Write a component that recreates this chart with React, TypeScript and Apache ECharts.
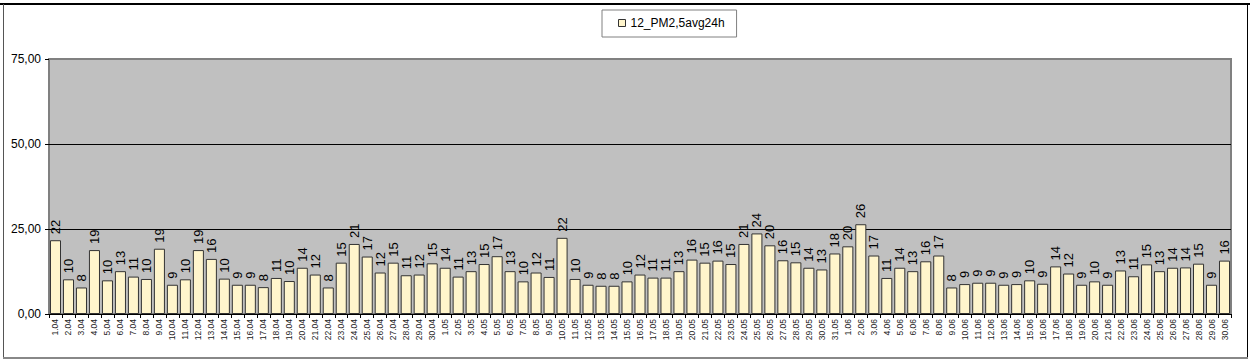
import React, { useEffect, useRef } from "react";
import * as echarts from "echarts";

const aprilDays = ["1.04","2.04","3.04","4.04","5.04","6.04","7.04","8.04","9.04","10.04","11.04","12.04","13.04","14.04","15.04","16.04","17.04","18.04","19.04","20.04","21.04","22.04","23.04","24.04","25.04","26.04","27.04","28.04","29.04","30.04"];
const mayDays = ["1.05","2.05","3.05","4.05","5.05","6.05","7.05","8.05","9.05","10.05","11.05","12.05","13.05","14.05","15.05","16.05","17.05","18.05","19.05","20.05","21.05","22.05","23.05","24.05","25.05","26.05","27.05","28.05","29.05","30.05","31.05"];
const juneDays = ["1.06","2.06","3.06","4.06","5.06","6.06","7.06","8.06","9.06","10.06","11.06","12.06","13.06","14.06","15.06","16.06","17.06","18.06","19.06","20.06","21.06","22.06","23.06","24.06","25.06","26.06","27.06","28.06","29.06","30.06"];

const aprilValues = [21.7,10.2,7.8,18.8,9.9,12.6,11.0,10.3,19.2,8.6,10.2,18.8,16.2,10.4,8.6,8.6,7.9,10.6,9.7,13.6,11.6,7.8,15.1,20.6,16.9,12.2,15.1,11.4,11.6,14.9];
const mayValues = [13.6,11.0,12.6,14.7,17.0,12.6,9.6,12.2,10.9,22.4,10.3,8.6,8.3,8.3,9.6,11.6,10.7,10.7,12.6,16.0,15.1,15.7,14.7,20.6,23.7,20.2,15.8,15.2,13.6,13.1,17.8];
const juneValues = [19.9,26.4,17.2,10.6,13.6,12.6,15.5,17.2,7.8,8.8,9.2,9.2,8.6,8.8,9.9,8.9,14.0,11.9,8.6,9.6,8.6,12.8,11.1,14.6,12.6,13.6,13.7,14.8,8.6,15.7];

const seriesName = "12_PM2,5avg24h";
const yMin = 0;
const yMax = 75;
const yInterval = 25;

const categories = [...aprilDays, ...mayDays, ...juneDays];
const values = [...aprilValues, ...mayValues, ...juneValues];

const FONT = "'Liberation Sans', Arial, sans-serif";

export default function App() {
  const ref = useRef<HTMLDivElement>(null);
  useEffect(() => {
    if (!ref.current) return;
    const chart = echarts.init(ref.current, null, { renderer: "svg" });
    chart.setOption({
      animation: false,
      backgroundColor: "#ffffff",
      textStyle: { fontFamily: FONT },
      legend: {
        left: 602,
        top: 10,
        padding: [6, 12, 7, 16],
        borderColor: "#808080",
        borderWidth: 1,
        backgroundColor: "#ffffff",
        itemWidth: 7,
        itemHeight: 7,
        itemGap: 4,
        icon: "rect",
        textStyle: { fontSize: 12, color: "#000", fontFamily: FONT, lineHeight: 14 },
        data: [{ name: seriesName, itemStyle: { color: "#FFF5CC", borderColor: "#333", borderWidth: 1 } }],
      },
      grid: {
        left: 49,
        top: 59,
        right: 19,
        bottom: 47,
        show: true,
        backgroundColor: "#C0C0C0",
        borderColor: "#808080",
        borderWidth: 2,
      },
      xAxis: {
        type: "category",
        data: categories,
        boundaryGap: true,
        axisLine: { show: true, lineStyle: { color: "#000", width: 1 } },
        axisTick: { show: true, length: 4, interval: 0, lineStyle: { color: "#000" } },
        axisLabel: { interval: 0, rotate: 90, fontSize: 8.5, color: "#222", margin: 5, fontFamily: FONT },
      },
      yAxis: {
        type: "value",
        min: yMin,
        max: yMax,
        interval: yInterval,
        axisLine: { show: false },
        axisTick: { show: true, length: 4, lineStyle: { color: "#000" } },
        axisLabel: {
          fontSize: 12,
          color: "#000",
          margin: 8,
          fontFamily: FONT,
          formatter: (v: number) => v.toFixed(2).replace(".", ","),
        },
        splitLine: { show: true, showMaxLine: false, lineStyle: { color: "#000", width: 1 } },
      },
      series: [
        {
          name: seriesName,
          type: "bar",
          data: values,
          barCategoryGap: "15%",
          itemStyle: { color: "#FFF5CC", borderColor: "#333", borderWidth: 1 },
          label: {
            show: true,
            position: "top",
            rotate: 90,
            align: "left",
            verticalAlign: "middle",
            distance: 6,
            fontSize: 13,
            color: "#000",
            fontFamily: FONT,
            formatter: (p: any) => String(Math.round(p.value)),
          },
        },
      ],
      graphic: [
        { type: "line", shape: { x1: 0, y1: 4, x2: 1250, y2: 4 }, style: { stroke: "#000", lineWidth: 2 } },
        { type: "line", shape: { x1: 3.5, y1: 4, x2: 3.5, y2: 358 }, style: { stroke: "#555", lineWidth: 1 } },
        { type: "line", shape: { x1: 1247.5, y1: 4, x2: 1247.5, y2: 358 }, style: { stroke: "#000", lineWidth: 1 } },
        { type: "line", shape: { x1: 3, y1: 358, x2: 1248, y2: 358 }, style: { stroke: "#888", lineWidth: 2 } },
      ],
    });
    return () => chart.dispose();
  }, []);
  return (
    <div
      ref={ref}
      style={{ position: "fixed", left: 0, top: 0, width: 1250, height: 361 }}
    />
  );
}
